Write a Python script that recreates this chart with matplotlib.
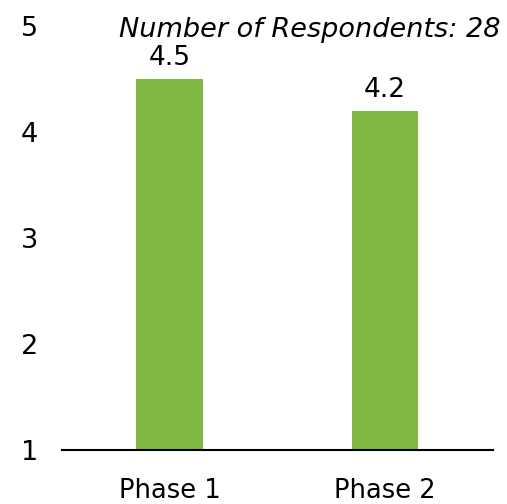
import matplotlib.pyplot as plt

phases = ["Phase 1", "Phase 2"]
scores = [4.5, 4.2]
respondents = 28
yticks = [1, 2, 3, 4, 5]

plt.rcParams['font.family'] = ['DejaVu Sans']

fig = plt.figure(figsize=(5.07, 5.04), dpi=100)
ax = fig.add_axes([0.122, 0.107, 0.85, 0.841])

x = range(len(phases))
ax.bar(x, [s - 1 for s in scores], bottom=1, width=0.31, color='#7EB843')
for xi, s in zip(x, scores):
    ax.annotate(f"{s:.1f}", (xi, s), xytext=(0, 6), textcoords='offset points',
                ha='center', va='bottom', fontsize=19)

ax.set_xlim(-0.5, 1.5)
ax.set_ylim(1, 5)
ax.set_yticks(yticks)
ax.set_xticks(list(x))
ax.set_xticklabels(phases, fontsize=18.5)
ax.tick_params(axis='y', length=0, labelsize=19.5, pad=17)
ax.tick_params(axis='x', length=0, pad=20)
for s in ['top', 'right', 'left']:
    ax.spines[s].set_visible(False)
ax.spines['bottom'].set_linewidth(1.5)

fig.text(0.987, 0.94, f"Number of Respondents: {respondents}", ha='right', va='center',
         fontsize=19.5, style='italic')

fig.savefig("out.png", dpi=100)
